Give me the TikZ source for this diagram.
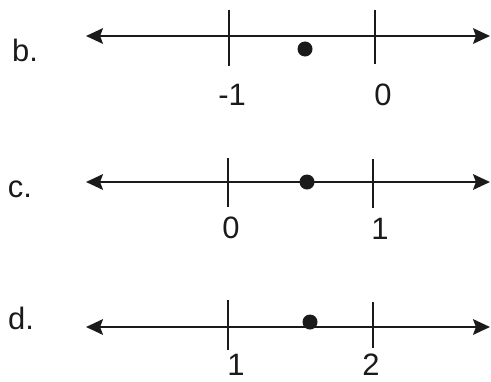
\documentclass[tikz,border=0pt]{standalone}
\usepackage{fontspec}
\setmainfont{Liberation Sans}
\usetikzlibrary{arrows.meta, positioning}
\definecolor{inkblack}{HTML}{1a1a1a}

\begin{document}
\begin{tikzpicture}[
  x=0.025cm, y=-0.025cm,
  numline/.style={{Stealth[length=12pt, width=11pt, inset=2pt]}-{Stealth[length=12pt, width=11pt, inset=2pt]}, line width=1.9pt, color=inkblack},
  tickmark/.style={line width=1.5pt, color=inkblack},
  dotpt/.style={circle, fill=inkblack, inner sep=0pt, minimum size=0.375cm},
  lbl/.style={font=\fontsize{22}{26}\selectfont, text=inkblack, inner sep=0pt},
]
\useasboundingbox (0,0) rectangle (491,381);

% b.
\coordinate (bL) at (86,36);
\coordinate (bR) at (490,36);
\draw[numline] (bL) -- (bR);
\draw[tickmark] (229,10) -- (229,66);
\draw[tickmark] (375,10) -- (375,64);
\node[dotpt] (bdot) at (305,49) {};
\node[lbl] (bname) at (25,50) {b.};
\node[lbl] (bm1) at (232,95) {-1};
\node[lbl] (b0) at (383,95) {0};

% c.
\coordinate (cL) at (86,182);
\coordinate (cR) at (490,182);
\draw[numline] (cL) -- (cR);
\draw[tickmark] (228,158) -- (228,207);
\draw[tickmark] (373,159) -- (373,208);
\node[dotpt] (cdot) at (307,182) {};
\node[lbl] (cname) at (20,189) {c.};
\node[lbl] (c0) at (231,228) {0};
\node[lbl] (c1) at (380,229) {1};

% d.
\coordinate (dL) at (86,327);
\coordinate (dR) at (490,327);
\draw[numline] (dL) -- (dR);
\draw[tickmark] (228,300) -- (228,350);
\draw[tickmark] (373,302) -- (373,348);
\node[dotpt] (ddot) at (310,322) {};
\node[lbl] (dname) at (21,318) {d.};
\node[lbl] (d1) at (236,365) {1};
\node[lbl] (d2) at (371,365) {2};
\end{tikzpicture}
\end{document}
